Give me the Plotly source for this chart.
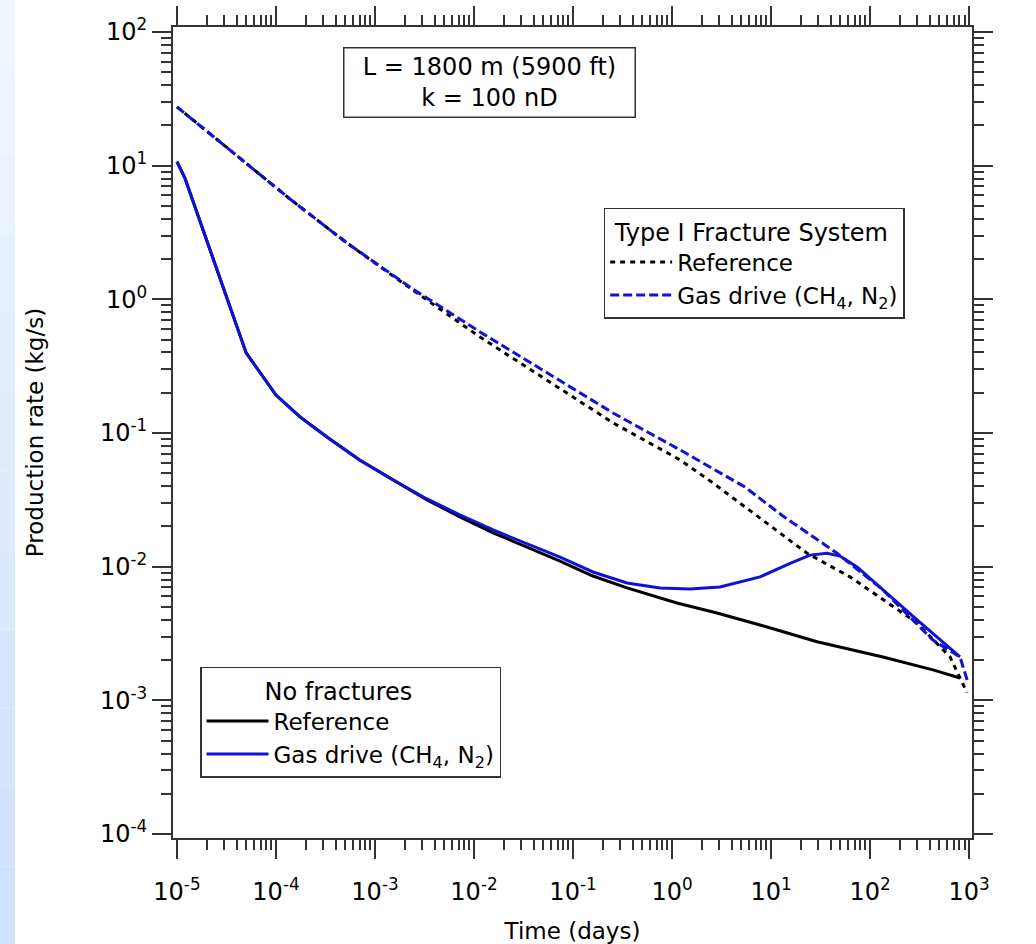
import plotly.graph_objects as go

# ---------------- data ----------------
# No fractures - Reference (black solid)
nf_ref_t = [1.0e-5, 1.2e-5, 5.0e-5, 1.0e-4, 1.75e-4, 3.27e-4, 7.0e-4, 1.52e-3, 3.35e-3,
            7.2e-3, 0.0156, 0.0343, 0.074, 0.159, 0.351, 1.12, 2.85, 9.12, 29.2, 135, 432, 811]
nf_ref_q = [10.7, 8.1, 0.397, 0.192, 0.132, 0.0933, 0.0628, 0.0445, 0.0316,
            0.0236, 0.0179, 0.0140, 0.0110, 0.00851, 0.00693, 0.00535, 0.00450, 0.00354,
            0.00274, 0.00211, 0.00169, 0.00147]

# No fractures - Gas drive (blue solid)
nf_gas_t = [1.0e-5, 1.2e-5, 5.0e-5, 1.0e-4, 1.75e-4, 3.27e-4, 7.0e-4, 1.52e-3, 3.35e-3,
            7.2e-3, 0.0156, 0.0343, 0.074, 0.159, 0.351, 0.757, 1.52, 3.05, 7.74, 15.6,
            24.8, 36.8, 49.8, 74.0, 135, 299, 811]
nf_gas_q = [10.7, 8.1, 0.397, 0.192, 0.132, 0.0933, 0.0628, 0.0445, 0.0321,
            0.0244, 0.0188, 0.0148, 0.0118, 0.00912, 0.00755, 0.00693, 0.00681, 0.00705,
            0.00838, 0.0106, 0.0122, 0.0126, 0.0120, 0.00995, 0.00670, 0.00399, 0.00211]

# Type I fracture system - Reference (black dashed)
f1_ref_t = [1.0e-5, 1.38e-4, 5.2e-4, 2.42e-3, 0.0115, 0.0546, 0.254, 1.21, 2.59,
            23.1, 62.8, 299, 643, 955]
f1_ref_q = [27.5, 5.64, 2.64, 1.17, 0.522, 0.249, 0.119, 0.0628, 0.0423,
            0.0126, 0.00838, 0.00379, 0.00211, 0.00114]

# Type I fracture system - Gas drive (blue dashed)
f1_gas_t = [1.0e-5, 1.38e-4, 5.2e-4, 2.42e-3, 0.0115, 0.0546, 0.254, 1.21, 5.46,
            13.2, 46.5, 135, 432, 811, 977]
f1_gas_q = [27.5, 5.64, 2.64, 1.19, 0.570, 0.281, 0.141, 0.0746, 0.0394,
            0.0239, 0.0126, 0.00670, 0.00282, 0.00211, 0.00135]

x_major = [1e-5, 1e-4, 1e-3, 1e-2, 1e-1, 1e0, 1e1, 1e2, 1e3]
x_labels = ["10<sup>-5</sup>", "10<sup>-4</sup>", "10<sup>-3</sup>", "10<sup>-2</sup>",
            "10<sup>-1</sup>", "10<sup>0</sup>", "10<sup>1</sup>", "10<sup>2</sup>",
            "10<sup>3</sup>"]
y_major = [1e-4, 1e-3, 1e-2, 1e-1, 1e0, 1e1, 1e2]
y_labels = ["10<sup>-4</sup>", "10<sup>-3</sup>", "10<sup>-2</sup>", "10<sup>-1</sup>",
            "10<sup>0</sup>", "10<sup>1</sup>", "10<sup>2</sup>"]

FONT = "DejaVu Sans"
AXC = "#333333"
BLUE = "#1010d8"

x_minor = [m * 10.0 ** d for d in range(-5, 3) for m in range(2, 10)]
y_minor = [m * 10.0 ** d for d in range(-4, 2) for m in range(2, 10)]

fig = go.Figure()

fig.add_trace(go.Scatter(x=nf_ref_t, y=nf_ref_q, mode="lines", name="Reference",
                         line=dict(color="black", width=3), legend="legend2"))
fig.add_trace(go.Scatter(x=nf_gas_t, y=nf_gas_q, mode="lines",
                         name="Gas drive (CH<sub>4</sub>, N<sub>2</sub>)",
                         line=dict(color=BLUE, width=3), legend="legend2"))
fig.add_trace(go.Scatter(x=f1_ref_t, y=f1_ref_q, mode="lines", name="Reference",
                         line=dict(color="black", width=3, dash="5px,5px"), legend="legend"))
fig.add_trace(go.Scatter(x=f1_gas_t, y=f1_gas_q, mode="lines",
                         name="Gas drive (CH<sub>4</sub>, N<sub>2</sub>)",
                         line=dict(color=BLUE, width=3, dash="9px,4px"), legend="legend"))

axis_common = dict(
    type="log", showgrid=False, zeroline=False, automargin=False,
    showline=True, linecolor=AXC, linewidth=2, mirror="ticks",
    ticks="outside", ticklen=19, tickwidth=2, tickcolor=AXC,
    tickfont=dict(family=FONT, size=24, color="black"),
    tickmode="array",
)

fig.update_xaxes(**axis_common, range=[-5.04, 3.03], tickvals=x_major, ticktext=x_labels,
                 ticklabelstandoff=12,
                 minor=dict(tickmode="array", tickvals=x_minor, ticks="outside",
                            ticklen=10, tickwidth=1.5, tickcolor=AXC, showgrid=False),
                 title=dict(text="Time (days)", font=dict(family=FONT, size=23, color="black"),
                            standoff=19))
fig.update_yaxes(**axis_common, range=[-4.03, 2.037], tickvals=y_major, ticktext=y_labels,
                 minor=dict(tickmode="array", tickvals=y_minor, ticks="outside",
                            ticklen=10, tickwidth=1.5, tickcolor=AXC, showgrid=False),
                 title=dict(text="Production rate (kg/s)",
                            font=dict(family=FONT, size=23, color="black"), standoff=50))

# light blue slide strip on the left edge (decorative background)
n_strip = 12
top_c = (240, 246, 254)
bot_c = (206, 226, 251)
y_top, y_bot = 1.035, -0.132
for i in range(n_strip):
    f = i / (n_strip - 1)
    c = tuple(int(top_c[k] + (bot_c[k] - top_c[k]) * f) for k in range(3))
    y0 = y_top + (y_bot - y_top) * i / n_strip
    y1 = y_top + (y_bot - y_top) * (i + 1) / n_strip
    fig.add_shape(type="rect", xref="paper", yref="paper", x0=-0.2166, x1=-0.1977,
                  y0=y0, y1=y1, fillcolor="rgb(%d,%d,%d)" % c, line=dict(width=0),
                  layer="below")

fig.add_annotation(xref="paper", yref="paper", x=0.3955, y=0.931,
                   xanchor="center", yanchor="middle",
                   text="L = 1800 m (5900 ft)<br>k = 100 nD", showarrow=False,
                   font=dict(family=FONT, size=24, color="black"), align="center",
                   bordercolor=AXC, borderwidth=1.5, borderpad=3, bgcolor="white",
                   width=284, height=62)

item_font = dict(family=FONT, size=23, color="black")
title_font = dict(family=FONT, size=24, color="black")
fig.update_layout(
    width=1036, height=944,
    margin=dict(l=173, r=64, t=27, b=106),
    paper_bgcolor="white", plot_bgcolor="white",
    font=dict(family=FONT, color="black"),
    legend=dict(x=0.539, y=0.777, xanchor="left", yanchor="top",
                bgcolor="white", bordercolor=AXC, borderwidth=1.5,
                font=item_font, tracegroupgap=0, itemwidth=62,
                title=dict(text="\u00a0Type I Fracture System", font=title_font, side="top")),
    legend2=dict(x=0.0338, y=0.211, xanchor="left", yanchor="top",
                 bgcolor="white", bordercolor=AXC, borderwidth=1.5,
                 font=item_font, tracegroupgap=0, itemwidth=62,
                 title=dict(text="\u00a0" * 8 + "No fractures", font=title_font,
                            side="top")),
)

fig.write_html("out.html", post_script="document.body.style.margin='0px';",
               config={"displayModeBar": False})
